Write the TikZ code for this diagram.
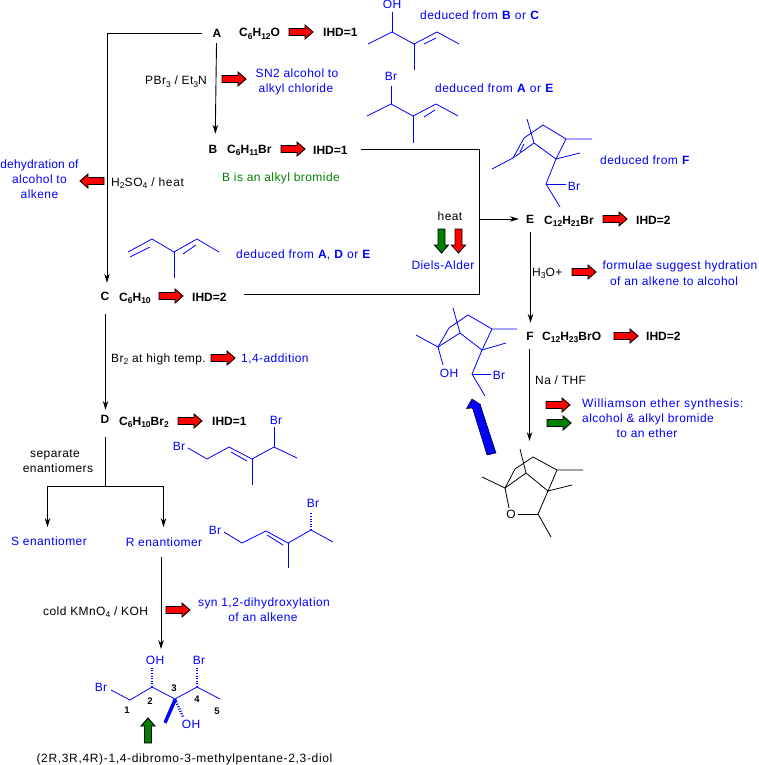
\documentclass[tikz,border=0pt]{standalone}
\usepackage{fontspec}
\setmainfont{Liberation Sans}
\usetikzlibrary{arrows.meta}
\definecolor{rblue}{RGB}{0,0,255}
\definecolor{rgreen}{RGB}{0,128,0}
\definecolor{rred}{RGB}{255,0,0}
\newcommand\sbs[1]{\raisebox{-2.6pt}{\fontsize{8.5}{8.5}\selectfont #1}}
\newcommand\blockarrow[5][24]{%
  \filldraw[draw=black,line width=0.9pt,fill=#5,shift={(#2,#3)},rotate=#4]
    (0,-3.5) -- (#1-8,-3.5) -- (#1-8,-7) -- (#1,0) -- (#1-8,7) -- (#1-8,3.5) -- (0,3.5) -- cycle;}
\tikzset{
  x=1pt,y=-1pt,
  base/.style={inner sep=0pt,font=\fontsize{12}{12}\selectfont\addfontfeature{LetterSpace=3.6}},
  wide/.style={font=\fontsize{12}{12}\selectfont\addfontfeature{LetterSpace=5.5}},
  tight/.style={font=\fontsize{12}{12}\selectfont\addfontfeature{LetterSpace=1.5}},
  txt/.style={base,anchor=base west,text=black},
  txtc/.style={base,anchor=base,text=black},
  note/.style={base,anchor=base west,text=rblue},
  notec/.style={base,anchor=base,text=rblue},
  form/.style={base,anchor=base west,text=black,font=\fontsize{12}{12}\selectfont\bfseries},
  letter/.style={inner sep=0pt,minimum width=10pt,minimum height=10pt,font=\fontsize{12}{12}\selectfont\bfseries},
  num/.style={inner sep=0pt,font=\fontsize{9.5}{9.5}\selectfont\bfseries},
  conn/.style={draw=black,line width=0.9pt,-{Stealth[length=9pt,width=5.5pt]}},
  plain/.style={draw=black,line width=0.9pt},
  mol/.style={draw=rblue,line width=0.8pt},
  molk/.style={draw=black,line width=0.8pt},
  hash/.style={draw=rblue,line width=2.5pt,dash pattern=on 1pt off 1.6pt},
}
\begin{document}
\begin{tikzpicture}
\useasboundingbox (0,0) rectangle (759,765);
% ---- main species
\node[letter] (A) at (217,33) {A};
\node[letter] (B) at (213,149) {B};
\node[letter] (C) at (105,296) {C};
\node[letter] (D) at (105,419) {D};
\node[letter] (E) at (530,219) {E};
\node[letter] (F) at (530,336) {F};
\node[form] (fA) at (239,37) {C\sbs{6}H\sbs{12}O};
\node[form] (fB) at (227,153) {C\sbs{6}H\sbs{11}Br};
\node[form] (fC) at (119,301) {C\sbs{6}H\sbs{10}};
\node[form] (fD) at (119,425) {C\sbs{6}H\sbs{10}Br\sbs{2}};
\node[form] (fE) at (544,224) {C\sbs{12}H\sbs{21}Br};
\node[form] (fF) at (542,340) {C\sbs{12}H\sbs{23}BrO};
\node[form] (iA) at (323,37) {IHD=1};
\node[form] (iB) at (313,154) {IHD=1};
\node[form] (iC) at (192,301) {IHD=2};
\node[form] (iD) at (212,425) {IHD=1};
\node[form] (iE) at (636,224) {IHD=2};
\node[form] (iF) at (646,340) {IHD=2};
% ---- reagents
\node[txt] (rPBr) at (145,85) {PBr\sbs{3} / Et\sbs{3}N};
\node[txt,wide] (rH) at (111,186) {H\sbs{2}SO\sbs{4} / heat};
\node[txtc] (rHeat) at (450,220) {heat};
\node[txt] (rBr) at (111,362) {Br\sbs{2} at high temp.};
\node[txt] (rHO) at (532,276) {H\sbs{3}O+};
\node[txt] (rNa) at (535,384) {Na / THF};
\node[txtc] (rSep) at (55,457) {separate};
\node[txtc] (rEna) at (58,472) {enantiomers};
\node[txt] (rKMn) at (43,615) {cold KMnO\sbs{4} / KOH};
% ---- notes
\node[note] (n1) at (420,20) {deduced from \textbf{B} or \textbf{C}};
\node[note] (n2) at (435,93) {deduced from \textbf{A} or \textbf{E}};
\node[notec] (n3) at (297,78) {SN2 alcohol to};
\node[notec] (n4) at (296,93) {alkyl chloride};
\node[base,anchor=base,text=rgreen] (n5) at (281,181) {B is an alkyl bromide};
\node[notec,tight] (n6) at (39.5,168) {dehydration of};
\node[notec] (n7) at (39.5,183) {alcohol to};
\node[notec] (n8) at (39.5,198) {alkene};
\node[note] (n9) at (236,258) {deduced from \textbf{A}, \textbf{D} or \textbf{E}};
\node[note] (n10) at (241,362) {1,4-addition};
\node[note] (n11) at (600,164) {deduced from \textbf{F}};
\node[notec] (n12) at (443,269) {Diels-Alder};
\node[notec] (n13) at (680,269) {formulae suggest hydration};
\node[notec] (n14) at (674,285) {of an alkene to alcohol};
\node[note,wide] (n15) at (582,407) {Williamson ether synthesis:};
\node[note] (n16) at (582,422) {alcohol \& alkyl bromide};
\node[notec] (n17) at (647,437) {to an ether};
\node[notec] (S) at (49,545) {S enantiomer};
\node[notec] (R) at (164,546) {R enantiomer};
\node[notec] (n18) at (264,606) {syn 1,2-dihydroxylation};
\node[notec] (n19) at (263,621) {of an alkene};
\node[txtc,wide] (name) at (184.5,762) {(2R,3R,4R)-1,4-dibromo-3-methylpentane-2,3-diol};
% ---- connectors
\coordinate (cornerA) at (107,33);
\coordinate (j1) at (479.5,149);
\coordinate (j2) at (479.5,294);
\coordinate (j3) at (479.5,219);
\coordinate (split) at (105.5,486);
\coordinate (splitS) at (47.5,486);
\coordinate (splitR) at (163.5,486);
\draw[plain] ([xshift=-10pt]A.west) -- (cornerA) -- (107,150);
\draw[conn] (107,150) -- ([xshift=2pt,yshift=8pt]C.north);
\draw[conn] ([xshift=-0.5pt,yshift=-5pt]A.south) -- ([xshift=2.3pt,yshift=10pt]B.north);
\draw[plain] ([xshift=13pt,yshift=5pt]iB.base east) -- (j1) -- (j2) -- ([xshift=17pt,yshift=7pt]iC.base east);
\draw[conn] (j3) -- ([xshift=-6pt]E.west);
\draw[conn] ([xshift=0.5pt,yshift=-13pt]C.south) -- ([xshift=0.5pt,yshift=4pt]D.north);
\draw[conn] ([xshift=0.5pt,yshift=-8pt]E.south) -- ([xshift=0.5pt,yshift=8pt]F.north);
\draw[conn] ([xshift=-0.5pt,yshift=-8pt]F.south) -- (529.5,441);
\draw[plain] ([xshift=0.5pt,yshift=-13pt]D.south) -- (split);
\draw[conn] (split) -- (splitS) -- ([xshift=-1.5pt,yshift=9pt]S.north);
\draw[conn] (split) -- (splitR) -- ([xshift=-0.5pt,yshift=10pt]R.north);
\coordinate (prodTop) at (161,649);
\draw[conn] ([xshift=-3pt,yshift=-11pt]R.south) -- (prodTop);
% ---- block arrows
\blockarrow{289}{32}{0}{rred}
\blockarrow{222}{79}{0}{rred}
\blockarrow{281}{149}{0}{rred}
\blockarrow{104}{181}{180}{rred}
\blockarrow{159}{296}{0}{rred}
\blockarrow{211}{358}{0}{rred}
\blockarrow{178}{421}{0}{rred}
\blockarrow{603}{219}{0}{rred}
\blockarrow{572}{272}{0}{rred}
\blockarrow{614}{336}{0}{rred}
\blockarrow{546}{405}{0}{rred}
\blockarrow{547}{423}{0}{rgreen}
\blockarrow{166}{610}{0}{rred}
\blockarrow{441.5}{229}{-90}{rgreen}
\blockarrow{458.5}{229}{-90}{rred}
\blockarrow[25]{148}{743}{90}{rgreen}
\filldraw[draw=black,line width=0.5pt,fill=rblue] (472,399) -- (480.5,404.5) -- (480.5,405.5) -- (496,453) -- (487,455) -- (472.5,408) -- (466.5,408.5) -- cycle;
% ---- molecule: OH alkene
\node[notec] (mOH) at (392,9) {OH};
\draw[mol] (368,44) -- (392,32) -- (414,44) -- (437,32) -- (459,44);
\draw[mol] (392,32) -- (392,12);
\draw[mol] (414,44) -- (414,70);
\draw[mol] (424,44) -- (436,38);
% ---- molecule: Br alkene
\node[notec] (mBr1) at (391,81) {Br};
\draw[mol] (367,116) -- (391,104) -- (413,116) -- (436,104) -- (458,116);
\draw[mol] (391,104) -- (391,86);
\draw[mol] (413,116) -- (413,143);
\draw[mol] (424,117) -- (435,110);
% ---- molecule: diene
\draw[mol] (128,252) -- (152,239) -- (174,252) -- (197,239) -- (219,252);
\draw[mol] (130,257) -- (150,247);
\draw[mol] (183,254) -- (196,245);
\draw[mol] (174,252) -- (174,278);
% ---- molecule: dibromide
\node[notec] (mBr2) at (179,450) {Br};
\node[notec] (mBr3) at (276,424) {Br};
\draw[mol] (188,448) -- (207,459) -- (229,447) -- (252,459) -- (274,447) -- (297,458);
\draw[mol] (231,452) -- (247,461);
\draw[mol] (252,459) -- (252,485);
\draw[mol] (274,447) -- (274,427);
% ---- molecule: R dibromide
\node[notec] (mBr4) at (215,534) {Br};
\node[notec] (mBr5) at (313,507) {Br};
\draw[mol] (224,532) -- (242,543) -- (266,531) -- (288,543) -- (311,530) -- (333,542);
\draw[mol] (267,535) -- (283,545);
\draw[mol] (288,543) -- (288,568);
\draw[hash] (311,530) -- (311,512);
% ---- molecule: E
\node[notec] (mBr6) at (574,190) {Br};
\draw[mol] (527,119) -- (534,143) -- (556,159) -- (566,139) -- (592,139);
\draw[mol] (566,139) -- (543,125) -- (524,138) -- (513,158) -- (492,169);
\draw[mol] (513,158) -- (534,143);
\draw[mol] (556,159) -- (580,153);
\draw[mol] (556,159) -- (546,184) -- (560,207);
\draw[mol] (546,184) -- (566,184);
\draw[mol] (520,152) -- (524,144);
% ---- molecule: F
\node[notec] (mBr7) at (499,379) {Br};
\node[notec] (mOH2) at (449,377) {OH};
\draw[mol] (453,308) -- (460,333) -- (482,350) -- (492,329) -- (517,329);
\draw[mol] (492,329) -- (468,315) -- (449,328) -- (438,347) -- (416,335);
\draw[mol] (438,347) -- (460,333);
\draw[mol] (482,350) -- (506,343);
\draw[mol] (482,350) -- (472,374) -- (485,396);
\draw[mol] (472,374) -- (491,374);
\draw[mol] (438,347) -- (443,365);
% ---- molecule: ether
\node[txtc] (mO) at (511,518) {O};
\draw[molk] (520,449) -- (526,473) -- (548,491) -- (557,470) -- (583,470);
\draw[molk] (557,470) -- (533,457) -- (515,469) -- (505,488) -- (482,477);
\draw[molk] (505,488) -- (526,473);
\draw[molk] (548,491) -- (572,485);
\draw[molk] (548,491) -- (538,514) -- (551,537);
\draw[molk] (538,514) -- (518,514);
\draw[molk] (505,488) -- (509,508);
% ---- molecule: product
\node[notec] (mBr8) at (101,691) {Br};
\node[notec] (mOH3) at (155,664) {OH};
\node[notec] (mBr9) at (199,664) {Br};
\node[notec] (mOH4) at (191,728) {OH};
\draw[mol] (111,690) -- (130,700) -- (152,687) -- (175,699) -- (197,687) -- (220,699);
\draw[hash] (152,687) -- (152,667);
\draw[hash] (197,687) -- (197,667);
\draw[hash] (175,699) -- (183,717);
\fill[rblue] (173.5,699) -- (177,700) -- (166.5,723.5) -- (163.5,722) -- cycle;
\node[num] (d1) at (127,710) {1};
\node[num] (d2) at (150,701) {2};
\node[num] (d3) at (174,688) {3};
\node[num] (d4) at (197,699) {4};
\node[num] (d5) at (217,711) {5};
\end{tikzpicture}
\end{document}
